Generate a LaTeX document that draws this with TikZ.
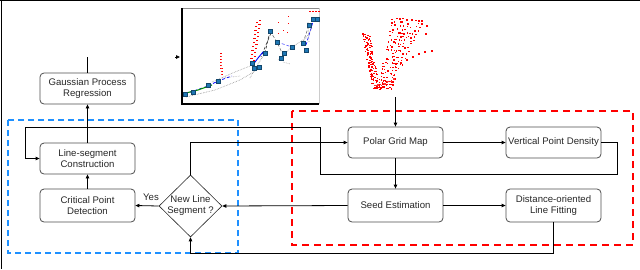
\documentclass[tikz,border=0pt]{standalone}
\usepackage{fontspec}
\setmainfont{Liberation Sans}
\usetikzlibrary{arrows.meta,shapes.geometric}
\definecolor{dblue}{RGB}{30,144,255}
\definecolor{sblue}{RGB}{31,119,180}
\begin{document}
\begin{tikzpicture}[x=1pt,y=-1pt,
  box/.style={draw=black!70, line width=0.8pt, rounded corners=4pt, minimum width=95pt, minimum height=31pt, align=center, inner sep=0pt, font=\fontsize{9.6}{11}\selectfont, text=black!85},
  dia/.style={draw=black!85, line width=0.6pt, diamond, aspect=1, minimum width=63pt, minimum height=62pt, inner sep=0pt},
  lbl/.style={align=center, font=\fontsize{9.6}{11}\selectfont, inner sep=0pt, text=black!85},
  conn/.style={draw=black, line width=0.8pt},
  arr/.style={conn, -{Triangle[length=4pt,width=3.5pt]}},
  bluebox/.style={draw=dblue, line width=1.8pt, dash pattern=on 6pt off 4pt},
  redbox/.style={draw=red, line width=1.8pt, dash pattern=on 7pt off 5pt},
  bpt/.style={fill=sblue, draw=sblue!60!black, line width=0.3pt, minimum size=3.4pt, inner sep=0pt, rectangle},
]
\useasboundingbox (0,0) rectangle (640,269);
% frame
\draw[line width=1.3pt] (0,0.6) -- (640,0.6);
\draw[line width=1pt] (1,0) -- (1,269);

% dashed groups
\draw[bluebox] (8,120) rectangle (238,253);
\draw[redbox] (292,111) rectangle (633,245);

% nodes
\node[box] (gpr) at (87.5,88.5) {Gaussian Process\\Regression};
\node[box] (lsc) at (87.5,158.5) {Line-segment\\Construction};
\node[box, minimum height=33pt] (cpd) at (87.5,205.5) {Critical Point\\Detection};
\node[box] (pgm) at (395.5,142.5) {Polar Grid Map};
\node[box] (vpd) at (553.5,142.5) {Vertical Point Density};
\node[box, minimum height=33pt] (seed) at (395.5,205.5) {Seed Estimation};
\node[box, minimum height=33pt] (dolf) at (553.5,205.5) {Distance-oriented\\Line Fitting};
\node[dia] (dec) at (190.5,206) {};
\node[lbl] (dect) at (dec.center) {New Line\\Segment ?};
\node[lbl] (yes) at (151,197) {Yes};

% coordinates
\coordinate (gtop) at (87.5,57);
\coordinate (plotin) at (180,57);
\coordinate (plotst) at (175,57);
\coordinate (cloudout) at (395.5,97);

% connectors
\draw[arr] (cpd) -- (lsc);
\draw[arr] (lsc) -- (gpr);
\draw[conn] (gpr.north) -- (gtop);
\draw[arr] (plotst) -- (plotin);
\draw[arr] (cloudout) -- (pgm.north);
\draw[arr] (pgm) -- (vpd);
\draw[arr] (pgm) -- (seed);
\draw[arr] (seed) -- (dolf);
\draw[arr] (vpd.east) -- (617,142.5) -- (617,174) -- (320,174) -- (320,127) -- (25,127) -- (25,158.5) -- (lsc.west);
\draw[arr] (dec.north) -- (dec.north |- pgm.west) -- (pgm.west);
\draw[arr] (seed.west) -- (dec.east);
\draw[arr] (dec.west) -- (cpd.east);
\draw[arr] (dolf.south) -- (553.5,253) -- (190.5,253) -- (dec.south);

% ---------- plot ----------
\fill[white] (182,8) rectangle (319,104);
\draw[black!45, line width=1pt] (182,8.5) -- (319,8.5);
\draw[black!20, line width=0.8pt] (319,8) -- (319,104);
\draw[black, line width=1.2pt] (182,8) -- (182,104) -- (319,104);
% gray dotted
\draw[black!45, densely dotted, line width=0.6pt] (186,97) -- (215,90) -- (240,80) -- (262,67);
\draw[black!45, densely dotted, line width=0.6pt] (212,82) -- (235,72) -- (250,66);
\draw[black!45, densely dotted, line width=0.6pt] (250,78) -- (258,64) -- (266,52);
\draw[black!45, densely dotted, line width=0.6pt] (278,60) -- (292,47) -- (306,38) -- (312,28);
\draw[black!35, densely dotted, line width=0.6pt] (283,62) -- (290,64);
\draw[black!35, densely dotted, line width=0.6pt] (308,22) -- (309,42);
\draw[black!30, densely dotted, line width=0.6pt] (222,78) -- (240,76);
% black dashed
\draw[black!80, densely dashed, line width=0.6pt] (270,31) -- (265,53);
\draw[black!80, densely dashed, line width=0.6pt] (271,33) -- (261,57);
\draw[black!60, densely dashed, line width=0.5pt] (270,31) -- (277,42) -- (283,55);
\draw[black!60, densely dashed, line width=0.5pt] (303,43) -- (309,25);
% blue dashed
\draw[blue, densely dashed, line width=0.7pt] (185,94) -- (208,86) -- (218,81) -- (232,76);
\draw[blue, line width=0.9pt] (252,66) -- (258,58) -- (263,52);
\draw[blue!70, densely dashed, line width=0.6pt] (277,42) -- (292,47);
\draw[blue, densely dashed, line width=0.6pt] (306,45) -- (313,22);
% green
\draw[green!55!black, line width=1pt] (186,93) -- (198,90) -- (212,85);
% red clusters
\foreach \y in {53,56,...,75} {\fill[red] (217+0.05*\y,\y) rectangle ++(2.2,1);}
\foreach \y in {55,58,...,73} {\fill[red!80] (220.5,\y+1) rectangle ++(1.5,1);}
\foreach \y in {20,24,...,60} {
  \pgfmathsetmacro\xx{259-0.15*(\y-20)}
  \fill[red] (\xx,\y) rectangle ++(2.2,1);
  \fill[red] (\xx-3.5,\y+2) rectangle ++(2.5,1);
}
\foreach \p in {(278,22),(288,23),(278,33),(287,32),(288,16),(283,30)} {\fill[red] \p rectangle ++(1.3,1.3);}
\foreach \x in {309,312,315,318} {\fill[red] (\x,11) rectangle ++(1.5,1);}
% blue points
\foreach \p in {(185,94),(193,92),(208,85),(218,81),(252,63),(254,68),(259,67),(265,53),(270,31),(277,42),(281,58),(284,53),(292,47),(303,43),(306,50),(309,25),(313,19),(317,19)}
  {\node[bpt] at \p {};}

% ---------- point cloud ----------
\pgfmathsetseed{7}
\foreach \i in {0,...,26} {
  \pgfmathsetmacro\cx{362+10*\i/26}
  \pgfmathsetmacro\cy{33+52*\i/26}
  \foreach \k in {0,1,2,3} {
    \pgfmathtruncatemacro\keep{rand>-0.5 ? 1 : 0}
    \ifnum\keep=1
    \pgfmathsetmacro\px{\cx+2.2*\k+0.8*rand}
    \pgfmathsetmacro\py{\cy+1.1*\k+0.6*rand}
    \fill[red] (\px,\py) rectangle ++(1.6,1.4);
    \fi
  }
}
\foreach \j in {0,...,20} {
  \pgfmathsetmacro\yy{18+3.4*\j}
  \pgfmathsetmacro\xl{392-14*(\yy-18)/68}
  \pgfmathsetmacro\xr{422-32*(\yy-18)/68}
  \foreach \k in {0,...,9} {
    \pgfmathtruncatemacro\keep{rand>-0.3 ? 1 : 0}
    \ifnum\keep=1
      \pgfmathsetmacro\px{\xl+(\xr-\xl)*\k/9+0.9*rand}
      \pgfmathsetmacro\py{\yy+0.2*\k+0.9*rand}
      \fill[red] (\px,\py) rectangle ++(1.6,1.4);
    \fi
  }
}
\foreach \k in {0,...,11} {
  \pgfmathsetmacro\px{373+1.8*\k+0.6*rand}
  \pgfmathsetmacro\py{89-0.6*\k+1.2*rand}
  \fill[red] (\px,\py) rectangle ++(1.6,1.5);
  \fill[red!80] (\px+1,\py-2.8) rectangle ++(1.4,1.3);
}
\foreach \p in {(400,62),(406,59),(412,56),(418,53),(424,51),(431,50),(400,21),(399,32),(426,25),(425,33)} {\fill[red] \p rectangle ++(1.6,1.5);}
\end{tikzpicture}
\end{document}
